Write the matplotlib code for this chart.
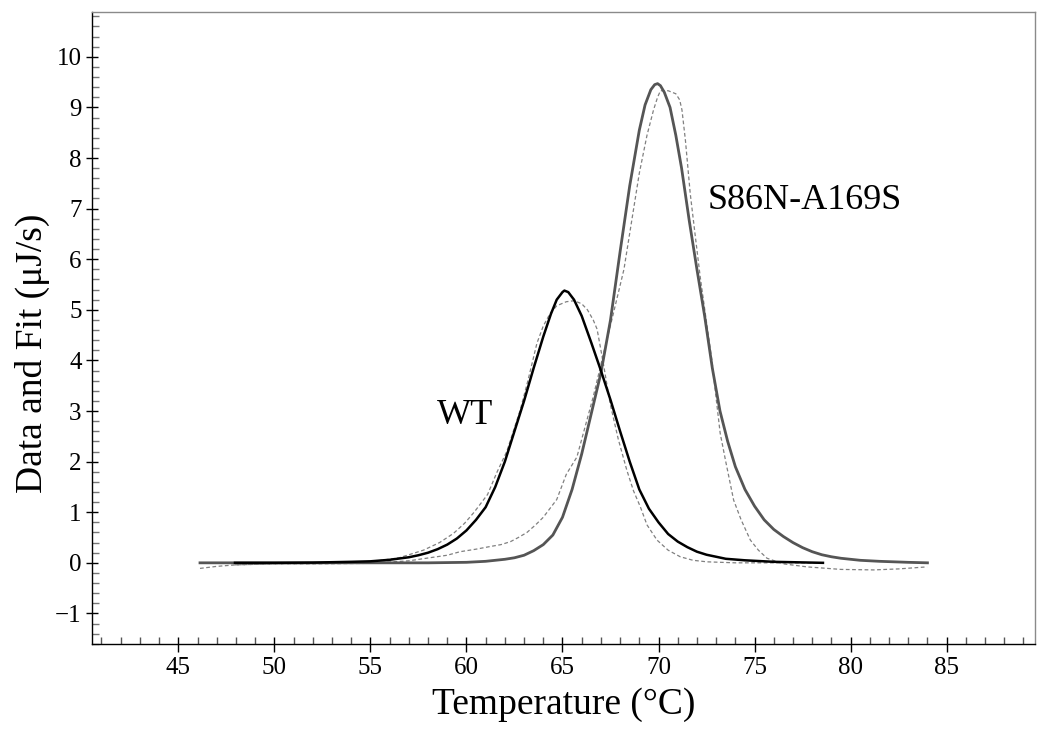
import matplotlib
matplotlib.use("Agg")
import matplotlib.pyplot as plt
import matplotlib.ticker as ticker

# --- data ---
wt_fit_t = [47.95, 50.0, 52.0, 54.0, 55.0, 56.0, 57.0, 57.5, 58.0, 58.5, 59.0, 59.5,
            60.0, 60.5, 61.0, 61.5, 62.0, 62.5, 63.0, 63.5, 64.0, 64.4, 64.7, 65.0,
            65.1, 65.3, 65.6, 66.0, 66.5, 67.0, 67.5, 68.0, 68.5, 69.0, 69.5, 70.0,
            70.5, 71.0, 71.5, 72.0, 72.5, 73.0, 73.5, 74.5, 76.0, 77.3, 78.56]
wt_fit_cp = [0.0, 0.0, 0.005, 0.02, 0.03, 0.06, 0.11, 0.15, 0.2, 0.27, 0.36, 0.48,
             0.64, 0.85, 1.1, 1.5, 2.0, 2.6, 3.2, 3.85, 4.47, 4.92, 5.2, 5.35,
             5.38, 5.35, 5.2, 4.88, 4.35, 3.8, 3.22, 2.6, 2.0, 1.45, 1.07, 0.8,
             0.57, 0.42, 0.31, 0.22, 0.16, 0.12, 0.08, 0.05, 0.02, 0.01, 0.0]

wt_data_t = [47.95, 50.0, 53.0, 55.0, 56.5, 57.76, 58.6, 59.32, 59.9, 60.4, 61.1, 61.6,
             62.1, 62.8, 63.2, 63.67, 64.0, 64.36, 64.7, 65.2, 65.6, 66.0, 66.3, 66.6,
             66.8, 67.1, 67.48, 67.9, 68.35, 68.7, 69.05, 69.4, 69.92, 70.5, 71.13, 71.8,
             72.52, 74.0, 76.0, 78.5]
wt_data_cp = [-0.04, -0.02, -0.01, 0.02, 0.1, 0.25, 0.4, 0.58, 0.78, 1.0, 1.35, 1.8,
              2.2, 3.02, 3.6, 4.34, 4.68, 4.93, 5.08, 5.16, 5.18, 5.12, 5.0, 4.8,
              4.62, 4.0, 3.15, 2.45, 1.83, 1.42, 1.11, 0.75, 0.45, 0.25, 0.12, 0.05,
              0.02, 0.0, 0.0, 0.0]

mut_fit_t = [46.13, 50.0, 55.0, 58.0, 60.0, 61.0, 62.0, 62.5, 63.0, 63.5, 64.0, 64.5,
             65.0, 65.5, 66.0, 66.5, 67.0, 67.5, 68.0, 68.5, 69.0, 69.3, 69.6, 69.8,
             69.95, 70.1, 70.3, 70.6, 70.9, 71.2, 71.6, 72.0, 72.4, 72.8, 73.2, 73.6,
             74.0, 74.5, 75.0, 75.5, 76.0, 76.5, 77.0, 77.5, 78.0, 78.5, 79.0, 79.5,
             80.5, 81.5, 83.0, 84.0]
mut_fit_cp = [0.0, 0.0, 0.0, 0.0, 0.01, 0.03, 0.07, 0.1, 0.15, 0.24, 0.36, 0.55,
              0.9, 1.45, 2.15, 2.95, 3.75, 4.8, 6.15, 7.45, 8.55, 9.05, 9.35, 9.45,
              9.47, 9.43, 9.3, 9.0, 8.45, 7.8, 6.76, 5.8, 4.88, 3.85, 3.0, 2.4,
              1.9, 1.45, 1.12, 0.85, 0.66, 0.52, 0.4, 0.3, 0.22, 0.16, 0.12, 0.09,
              0.05, 0.03, 0.01, 0.0]

mut_data_t = [46.13, 47.0, 48.0, 50.0, 52.0, 55.0, 57.0, 57.9, 59.0, 59.67, 60.5, 61.2,
              61.8, 62.3, 62.7, 63.15, 63.6, 64.0, 64.7, 65.2, 65.75, 66.6, 67.14, 67.6,
              68.2, 68.6, 69.0, 69.4, 69.74, 69.95, 70.1, 70.5, 70.9, 71.1, 71.22, 71.4,
              71.65, 71.9, 72.17, 72.5, 72.78, 73.0, 73.21, 73.5, 73.91, 74.3, 74.78, 75.2,
              75.65, 76.5, 77.73, 79.5, 81.2, 82.5, 83.98]
mut_data_cp = [-0.11, -0.07, -0.04, -0.02, -0.02, -0.01, 0.04, 0.09, 0.15, 0.22, 0.27, 0.32,
               0.36, 0.42, 0.5, 0.6, 0.75, 0.9, 1.25, 1.75, 2.09, 3.28, 4.14, 4.85,
               5.8, 6.75, 7.7, 8.45, 8.95, 9.2, 9.33, 9.33, 9.27, 9.15, 8.95, 8.35,
               7.3, 6.5, 5.65, 4.75, 4.0, 3.25, 2.56, 2.0, 1.24, 0.85, 0.45, 0.25,
               0.09, -0.02, -0.08, -0.13, -0.14, -0.12, -0.08]

plt.rcParams.update({
    "font.family": ["Liberation Serif", "DejaVu Serif"],
    "axes.unicode_minus": True,
})

fig = plt.figure(figsize=(10.44, 7.31), dpi=100)
ax = fig.add_axes([0.0878, 0.1186, 0.9036, 0.8646])

ax.plot(mut_data_t, mut_data_cp, color="#808080", lw=0.9, ls=(0, (3, 2)), zorder=2)
ax.plot(wt_data_t, wt_data_cp, color="#808080", lw=0.9, ls=(0, (3, 2)), zorder=2)
ax.plot(mut_fit_t, mut_fit_cp, color="#555555", lw=2.0, solid_joinstyle="round", zorder=3)
ax.plot(wt_fit_t, wt_fit_cp, color="black", lw=1.8, solid_joinstyle="round", zorder=4)

ax.text(59.93, 2.92, "WT", fontsize=26, ha="center", va="center")
ax.text(77.59, 7.17, "S86N-A169S", fontsize=26, ha="center", va="center")

ax.set_xlim(40.49, 89.6)
ax.set_ylim(-1.61, 10.88)

ax.xaxis.set_major_locator(ticker.MultipleLocator(5))
ax.xaxis.set_minor_locator(ticker.MultipleLocator(1))
ax.yaxis.set_major_locator(ticker.MultipleLocator(1))
ax.yaxis.set_minor_locator(ticker.MultipleLocator(0.2))

ax.tick_params(axis="x", which="major", direction="inout", length=10.8, width=1,
               labelsize=18, pad=4)
ax.tick_params(axis="x", which="minor", direction="in", length=5.4, width=1, color="#555555")
ax.tick_params(axis="y", which="major", direction="inout", length=8.5, width=1,
               labelsize=18, pad=3)
ax.tick_params(axis="y", which="minor", direction="in", length=5.0, width=1, color="#777777")

for side in ["top", "right"]:
    ax.spines[side].set_color("#8a8a8a")
for side in ["left", "bottom"]:
    ax.spines[side].set_color("black")
for s in ax.spines.values():
    s.set_linewidth(1.0)

ax.set_xlabel("Temperature (°C)", fontsize=27, labelpad=6)
ax.set_ylabel("Data and Fit (μJ/s)", fontsize=27)
ax.yaxis.set_label_coords(-0.044, 0.461)

fig.savefig("out.png", dpi=100)
plt.close()
